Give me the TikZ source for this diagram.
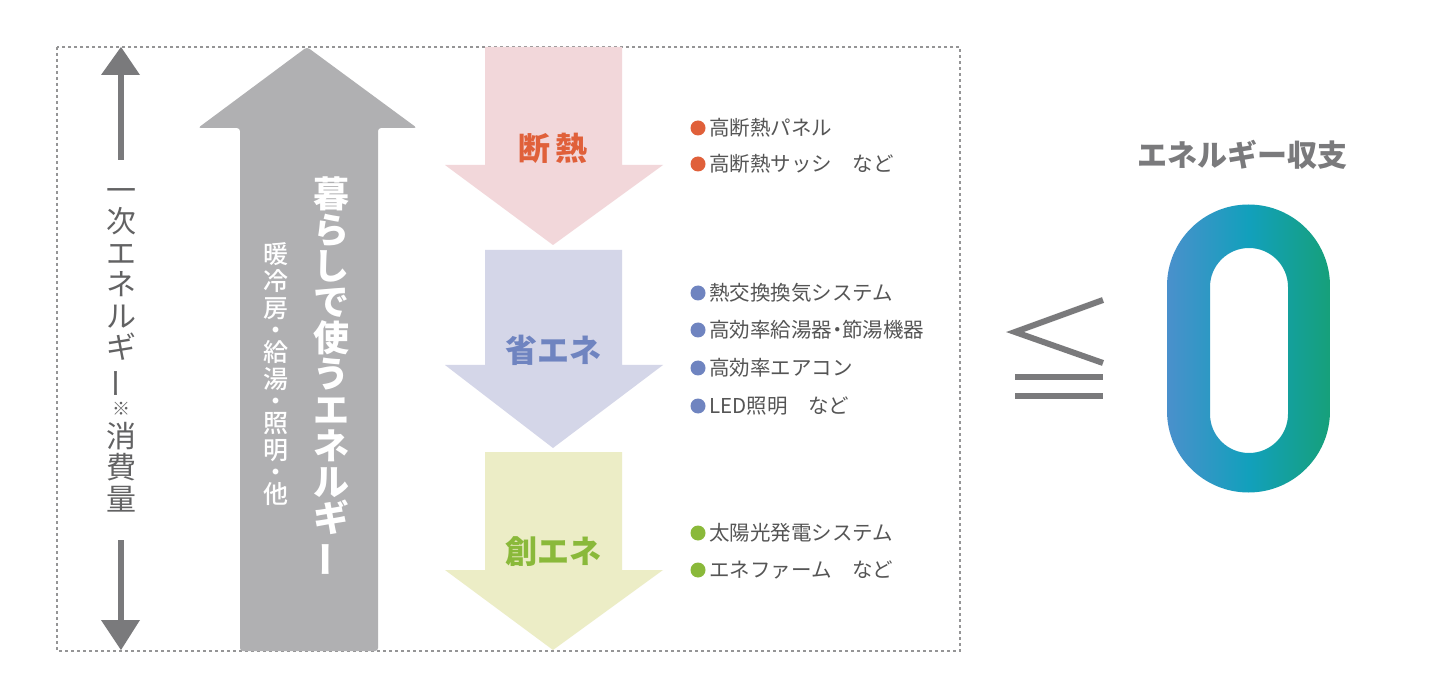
\documentclass[tikz,border=0pt]{standalone}
\usepackage{fontspec}
\usepackage{graphicx}
\setmainfont{Noto Sans CJK JP}
\newfontfamily\med{Noto Sans CJK JP Medium}
\definecolor{gr}{HTML}{7A7A7C}
\definecolor{biggr}{HTML}{B0B0B2}
\definecolor{pinkA}{HTML}{F2D7DA}
\definecolor{lavA}{HTML}{D4D6E8}
\definecolor{yelA}{HTML}{ECEDC6}
\definecolor{orT}{HTML}{E0603A}
\definecolor{blT}{HTML}{6F84C0}
\definecolor{grT}{HTML}{8AB93A}
\definecolor{txt}{HTML}{555555}
\definecolor{zA}{HTML}{4A90CC}
\definecolor{zB}{HTML}{12A0BC}
\definecolor{zC}{HTML}{16A07A}
\newcommand{\vbar}{\rotatebox[origin=c]{90}{ー}}
\begin{document}
\begin{tikzpicture}[x=1pt,y=-1pt,
  item/.style={anchor=west,text=txt,font=\fontsize{20.5}{20.5}\selectfont,inner sep=0},
  dot/.style={circle,minimum size=15pt,inner sep=0},
  lbl/.style={font=\fontsize{32}{32}\selectfont\bfseries}]
\useasboundingbox (0,0) rectangle (1432,700);
\fill[white] (0,0) rectangle (1432,700);
% dashed frame
\draw[gr!80,dashed,line width=1.2pt] (57,47) rectangle (960,651);
% left double arrow
\fill[gr] (118,72) rectangle (124,160);
\fill[gr] (101,75) -- (121,47) -- (140,75) -- cycle;
\fill[gr] (118,540) rectangle (124,625);
\fill[gr] (101,620) -- (121,650) -- (140,620) -- cycle;
\node[text=gr!80!black,align=center,font=\fontsize{30}{31.5}\selectfont,inner sep=0] (lt) at (121,350)
 {一\\次\\エ\\ネ\\ル\\ギ\\\vbar\\[-6pt]{\fontsize{18}{18}\selectfont ※}\\消\\費\\量};
% big gray arrow
\fill[biggr,rounded corners=3pt] (240,651) -- (240,128) -- (198,128) -- (307,47) -- (417,128) -- (378,128) -- (378,651) -- cycle;
\node[text=white,align=center,font=\fontsize{36}{36}\selectfont\bfseries,inner sep=0] (bt) at (331,377)
 {暮\\ら\\し\\で\\使\\う\\エ\\ネ\\ル\\ギ\\\vbar};
\node[text=white,align=center,font=\fontsize{25}{27}\med,inner sep=0] (st) at (276,374)
 {暖\\冷\\房\\[-5pt]・\\[-5pt]給\\湯\\[-5pt]・\\[-5pt]照\\明\\[-5pt]・\\[-5pt]他};
% colored arrows
\fill[pinkA] (485,47) -- (622,47) -- (622,165) -- (663,165) -- (553,245) -- (445,165) -- (485,165) -- cycle;
\fill[lavA] (485,250) -- (622,250) -- (622,365) -- (663,365) -- (553,448) -- (445,365) -- (485,365) -- cycle;
\fill[yelA] (485,452) -- (622,452) -- (622,570) -- (663,570) -- (553,650) -- (445,570) -- (485,570) -- cycle;
\node[lbl,text=orT] (l1) at (553,148) {断\,熱};
\node[lbl,text=blT] (l2) at (553,350) {省エネ};
\node[lbl,text=grT] (l3) at (553,552) {創エネ};
% bullets
\foreach \y/\t/\c [count=\i] in {128/高断熱パネル/orT,164/高断熱サッシ\quad など/orT,
  293/熱交換換気システム/blT,330/高効率給湯器{\kern-0.25em}・{\kern-0.25em}節湯機器/blT,368/高効率エアコン/blT,406/LED照明\quad など/blT,
  533/太陽光発電システム/grT,570/エネファーム\quad など/grT}{
  \node[dot,fill=\c] (d\i) at (698,\y) {};
  \node[item] (t\i) at (709,\y) {\t};
}
% right side
\node[text=gr,font=\fontsize{30}{30}\selectfont\bfseries] (eb) at (1242,155) {エネルギー収支};
\draw[gr,line width=6pt] (1103,300) -- (1015,332) -- (1103,363);
\draw[gr,line width=6pt] (1015,377) -- (1103,377);
\draw[gr,line width=6pt] (1015,396) -- (1103,396);
\path[even odd rule,left color=zA,right color=zC,middle color=zB]
  (1167,286) arc[start angle=180,end angle=0,radius=81.5pt] -- (1330,411) arc[start angle=0,end angle=-180,radius=81.5pt] -- cycle
  (1210,287) arc[start angle=180,end angle=0,radius=39pt] -- (1288,414) arc[start angle=0,end angle=-180,radius=39pt] -- cycle;
\end{tikzpicture}
\end{document}
